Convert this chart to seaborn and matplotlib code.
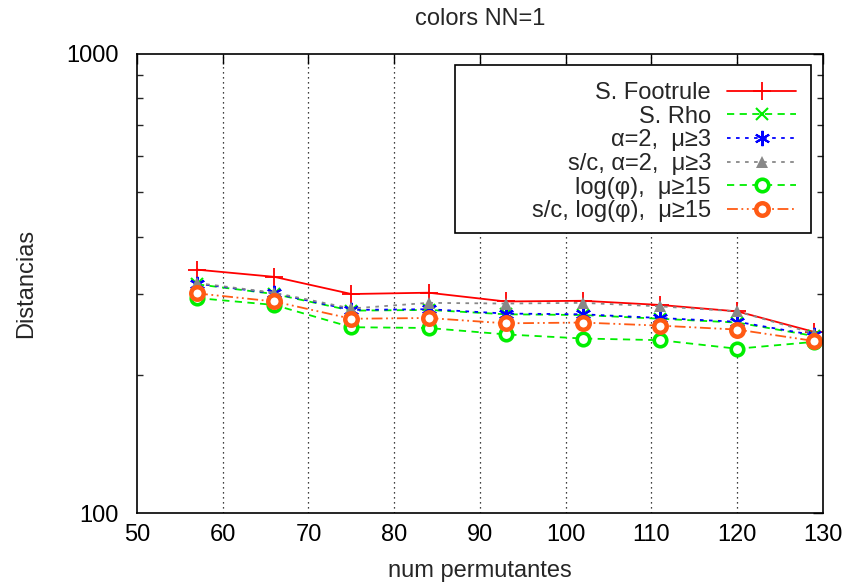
import matplotlib
matplotlib.use("Agg")
import matplotlib.pyplot as plt
import seaborn as sns
import pandas as pd
from matplotlib.ticker import FixedLocator, NullFormatter
from matplotlib.patches import Rectangle

x_vals = [57, 66, 75, 84, 93, 102, 111, 120, 129]
footrule = [339, 327, 300, 302, 289, 290, 284, 275, 248]
rho = [315, 300, 276, 277, 271, 270, 265, 260, 243]
alpha2 = [316, 301, 277, 278, 272, 271, 266, 261, 244]
sc_alpha2 = [317, 302, 279, 287, 286, 287, 282, 275, 246]
logphi = [294, 284, 254, 253, 245, 240, 238, 228, 236]
sc_logphi = [301, 289, 265, 266, 259, 260, 256, 251, 237]

labels = ["S. Footrule", "S. Rho", "α=2,  μ≥3", "s/c, α=2,  μ≥3",
          "log(φ),  μ≥15", "s/c, log(φ),  μ≥15"]
series = [footrule, rho, alpha2, sc_alpha2, logphi, sc_logphi]

colors = ["#ff0000", "#00ee00", "#0000ff", "#888888", "#00ee00", "#ff5a14"]
styles = [
    dict(marker="+", linestyle="-", markersize=13, markeredgewidth=1.3),
    dict(marker="x", linestyle=(0, (4, 3)), markersize=9, markeredgewidth=1.5),
    dict(marker=(6, 2, 0), linestyle=(0, (2, 3)), markersize=11, markeredgewidth=1.5),
    dict(marker="^", linestyle=(0, (2, 3)), markersize=9, markeredgewidth=0),
    dict(marker="o", linestyle=(0, (4, 3)), markersize=9, markeredgewidth=2.6,
         markerfacecolor="white"),
    dict(marker="o", linestyle=(0, (6, 2, 1, 2, 1, 2)), markersize=9,
         markeredgewidth=3.2, markerfacecolor="white"),
]

sns.set_theme(style="white")
plt.rcParams["font.family"] = ["Liberation Sans", "DejaVu Sans"]
FS = 17

fig = plt.figure(figsize=(8.51, 5.85), dpi=100)
ax = fig.add_axes([0.161, 0.123, 0.806, 0.7847])

for lab, vals, col, st in zip(labels, series, colors, styles):
    df = pd.DataFrame({"x": x_vals, "y": vals})
    st = dict(st)
    st["markeredgecolor"] = col
    if st["marker"] == "^":
        st["markerfacecolor"] = col
    sns.lineplot(data=df, x="x", y="y", ax=ax, label=lab, linewidth=1.3,
                 color=col, **st)

ax.set_yscale("log")
ax.set_xlim(50, 130)
ax.set_ylim(100, 1000)
ax.set_xticks(range(50, 131, 10))
ax.yaxis.set_major_locator(FixedLocator([100, 1000]))
ax.set_yticklabels(["100", "1000"])
ax.yaxis.set_minor_locator(FixedLocator(list(range(200, 1000, 100))))
ax.yaxis.set_minor_formatter(NullFormatter())

for xv in range(60, 130, 10):
    ax.axvline(xv, color="black", linestyle=(0, (1, 3)), linewidth=0.9, zorder=0)

for s in ax.spines.values():
    s.set_color("black")
    s.set_linewidth(1.2)

ax.tick_params(axis="both", which="major", direction="in", length=7, width=1,
               top=True, right=True, labelsize=FS, colors="black", pad=8)
ax.tick_params(axis="y", which="major", pad=13)
ax.tick_params(axis="y", which="minor", direction="in", length=4, width=1,
               left=True, right=True)

ax.set_xlabel("num permutantes", fontsize=FS, labelpad=10)
ax.set_ylabel("Distancias", fontsize=FS, labelpad=21)
ax.set_title("colors NN=1", fontsize=FS, pad=21)

# legend frame
ax.add_patch(Rectangle((0.4636, 0.610), 0.9825 - 0.4636, 0.976 - 0.610,
                       transform=ax.transAxes, facecolor="white",
                       edgecolor="black", linewidth=1.2, zorder=4))

leg = ax.legend(loc="upper right", markerfirst=False, fontsize=FS, frameon=False,
                handlelength=2.9, borderpad=0.0, labelspacing=0.07,
                handletextpad=0.7, borderaxespad=0.0,
                bbox_to_anchor=(0.9606, 0.939))
leg.set_zorder(5)

fig.savefig("out.png", dpi=100)
